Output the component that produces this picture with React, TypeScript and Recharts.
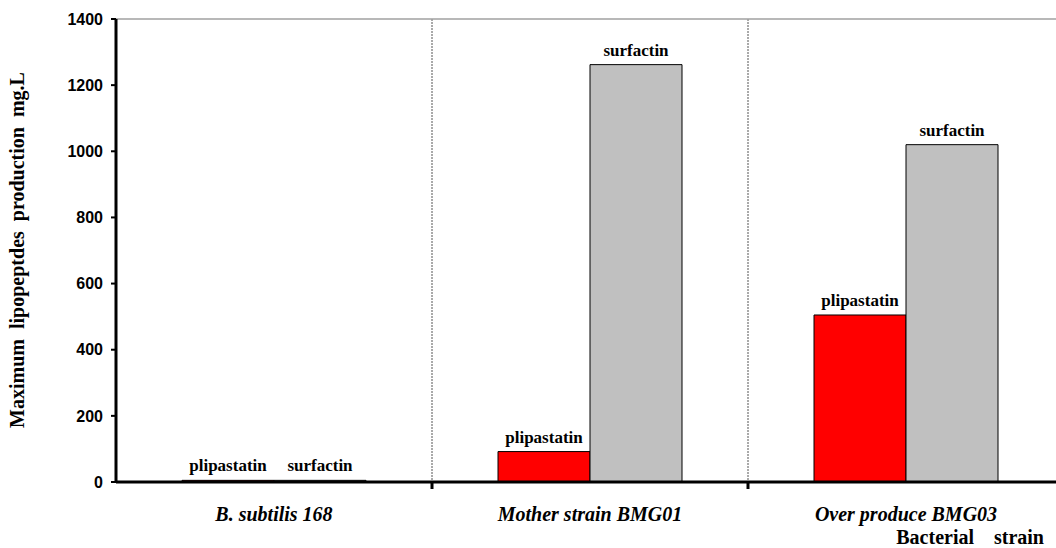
import React from 'react';
import { BarChart, Bar, XAxis, YAxis, ReferenceLine, LabelList, CartesianGrid } from 'recharts';

const categories = ['B. subtilis 168', 'Mother strain BMG01', 'Over produce BMG03'];
const plipastatin = [5, 92, 505];
const surfactin = [5, 1262, 1020];
const yTicks = [0, 200, 400, 600, 800, 1000, 1200, 1400];

const data = categories.map((c, i) => ({ name: c, plipastatin: plipastatin[i], surfactin: surfactin[i] }));

const serif = 'Liberation Serif, DejaVu Serif, serif';
const sans = 'Liberation Sans, Arial, sans-serif';

const CatTick = (props: any) => {
  const { x, y, payload, index, bandSize } = props;
  const half = (bandSize || 316) / 2;
  return (
    <g>
      {index > 0 && <line x1={x - half} x2={x - half} y1={y - 8} y2={y - 1} stroke="#000" strokeWidth={3} />}
      <text x={x} y={y + 31} textAnchor="middle" style={{ fontFamily: serif, fontWeight: 'bold', fontStyle: 'italic', fontSize: 20 }} fill="#000">
        {payload.value}
      </text>
    </g>
  );
};

const makeBarLabel = (name: string) => (props: any) => {
  const { x, y, width } = props;
  return (
    <text x={x + width / 2} y={y - 9} textAnchor="middle" style={{ fontFamily: serif, fontWeight: 'bold', fontSize: 17 }} fill="#000">
      {name}
    </text>
  );
};

export default function App() {
  return (
    <div style={{ position: 'absolute', left: 0, top: 0, width: 1056, height: 548, overflow: 'hidden', background: '#fff' }}>
      <BarChart
        width={1070}
        height={548}
        data={data}
        margin={{ top: 19, right: 6, left: 0, bottom: 0 }}
        barCategoryGap={66}
        barGap={0}
      >
        <CartesianGrid
          horizontal={false}
          stroke="#555"
          strokeDasharray="2 1"
          verticalCoordinatesGenerator={({ offset }: any) => [1, 2].map((k) => offset.left + (offset.width * k) / categories.length)}
        />
        <XAxis
          dataKey="name"
          height={66}
          interval={0}
          tickLine={false}
          axisLine={{ stroke: '#000', strokeWidth: 3 }}
          tick={(p: any) => <CatTick {...p} bandSize={(1064 - 116) / categories.length} />}
          label={{
            content: () => (
              <text x={1044} y={544} textAnchor="end" style={{ fontFamily: serif, fontWeight: 'bold', fontSize: 20, whiteSpace: 'pre' }} fill="#000">
                {'Bacterial    strain'}
              </text>
            ),
          }}
        />
        <YAxis
          width={116}
          domain={[0, 1400]}
          ticks={yTicks}
          interval={0}
          tickSize={5}
          tickMargin={8}
          tickLine={{ stroke: '#000', strokeWidth: 2 }}
          axisLine={{ stroke: '#000', strokeWidth: 3 }}
          tick={{ fontFamily: sans, fontWeight: 'bold', fontSize: 16, fill: '#000' }}
          label={{
            content: () => (
              <text x={24} y={250} transform="rotate(-90 24 250)" textAnchor="middle" style={{ fontFamily: serif, fontWeight: 'bold', fontSize: 20, whiteSpace: 'pre' }} fill="#000">
                {'Maximum  lipopeptdes  production  mg.L'}
              </text>
            ),
          }}
        />
        <ReferenceLine y={1400} stroke="#a0a0a0" strokeWidth={1.5} />
        <Bar dataKey="plipastatin" fill="#ff0000" stroke="#000" strokeWidth={1} isAnimationActive={false}>
          <LabelList dataKey="plipastatin" content={makeBarLabel('plipastatin')} />
        </Bar>
        <Bar dataKey="surfactin" fill="#c0c0c0" stroke="#000" strokeWidth={1} isAnimationActive={false}>
          <LabelList dataKey="surfactin" content={makeBarLabel('surfactin')} />
        </Bar>
      </BarChart>
    </div>
  );
}
